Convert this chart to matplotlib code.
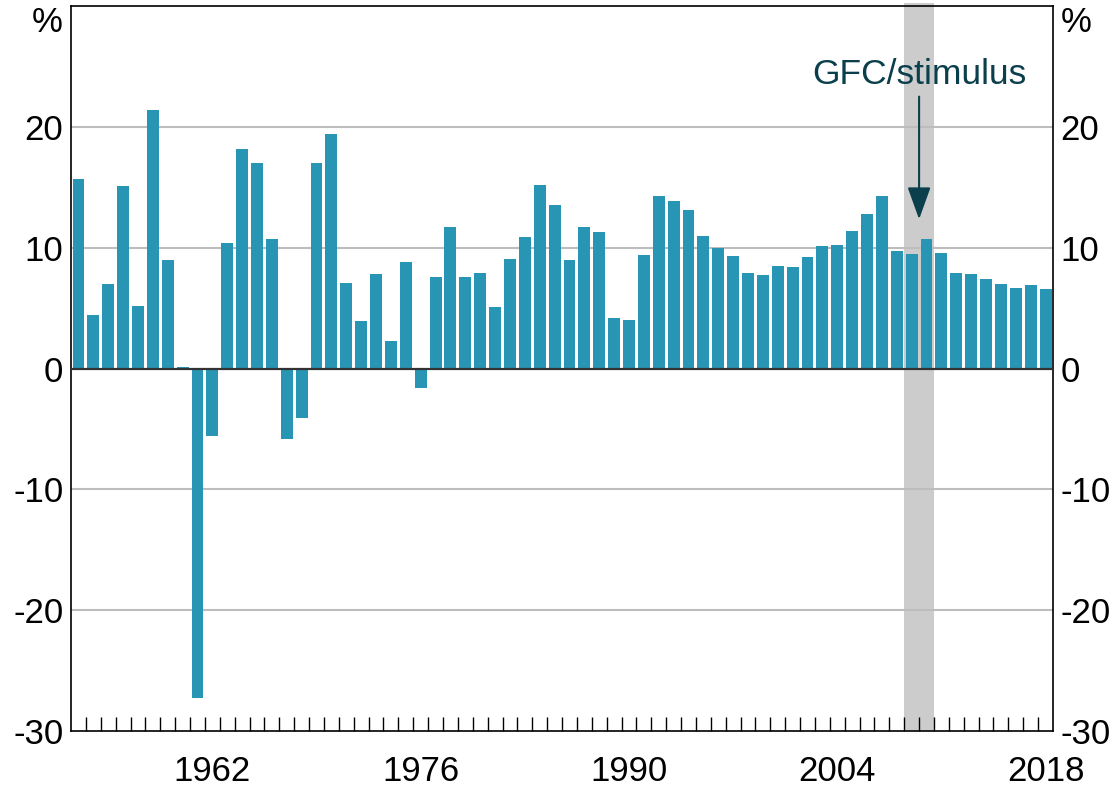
import numpy as np
import matplotlib
matplotlib.use("Agg")
import matplotlib.pyplot as plt

plt.rcParams['font.family'] = ['Liberation Sans', 'DejaVu Sans']

years = list(range(1953, 2019))
growth = [
    15.7, 4.4, 7.0, 15.1, 5.2, 21.4, 9.0, 0.1, -27.3, -5.6,
    10.4, 18.2, 17.0, 10.7, -5.8, -4.1, 17.0, 19.4, 7.1, 3.9,
    7.8, 2.3, 8.8, -1.6, 7.6, 11.7, 7.6, 7.9, 5.1, 9.1,
    10.85, 15.2, 13.5, 9.0, 11.7, 11.3, 4.2, 4.0, 9.4, 14.25,
    13.9, 13.1, 11.0, 9.95, 9.3, 7.9, 7.7, 8.5, 8.4, 9.2,
    10.1, 10.2, 11.4, 12.8, 14.25, 9.7, 9.45, 10.7, 9.6, 7.9,
    7.8, 7.4, 7.0, 6.7, 6.9, 6.6,
]
label_years = [1962, 1976, 1990, 2004, 2018]
yticks = [-30, -20, -10, 0, 10, 20, 30]
shade = (2008.5, 2010.5)
note = "GFC/stimulus"
note_year = 2009.5

bar_col = "#2895B5"
note_col = "#0B3F4C"
fs = 25

fig = plt.figure(figsize=(11.17, 7.88), dpi=100)
ax = fig.add_axes([0.0636, 0.0723, 0.8791, 0.9201])

ax.axvspan(*shade, ymax=1.004, color="#CCCCCC", lw=0, zorder=0, clip_on=False)
for v in [-20, -10, 10, 20]:
    ax.axhline(v, color="#BDBDBD", lw=1.5, zorder=1)
ax.bar(years, growth, width=0.8, color=bar_col, zorder=2)
ax.axhline(0, color="#333333", lw=1.6, zorder=3)

ax.set_xlim(years[0] - 0.5, years[-1] + 0.5)
ax.set_ylim(-30, 30)

# year boundary ticks, labels at bar centres
ax.set_xticks(np.arange(years[0] + 0.5, years[-1], 1.0), minor=True)
ax.set_xticks(label_years)
ax.set_xticklabels([str(y) for y in label_years])
ax.tick_params(axis="x", which="minor", direction="in", length=10, width=1, color="black")
ax.tick_params(axis="x", which="major", length=0, pad=17, labelsize=fs)

ax.set_yticks(yticks)
ax.set_yticklabels(["" if v == 30 else str(v) for v in yticks])
ax.tick_params(axis="y", length=0, pad=5.5, labelsize=fs, left=True, right=True,
               labelleft=True, labelright=True)

for s in ax.spines.values():
    s.set_color("black")
    s.set_linewidth(1.2)

ax.text(-0.0085, 0.977, "%", transform=ax.transAxes, ha="right", va="center", fontsize=fs)
ax.text(1.008, 0.977, "%", transform=ax.transAxes, ha="left", va="center", fontsize=fs)

ax.text(note_year, 24.35, note, ha="center", va="center", fontsize=25.5, color=note_col)
ax.annotate("", xy=(note_year, 12.35), xytext=(note_year, 22.5),
            arrowprops=dict(arrowstyle="-|>,head_length=1.0,head_width=0.36",
                            mutation_scale=20, color=note_col, lw=1.5,
                            shrinkA=0, shrinkB=0))

fig.savefig("out.png", dpi=100)
